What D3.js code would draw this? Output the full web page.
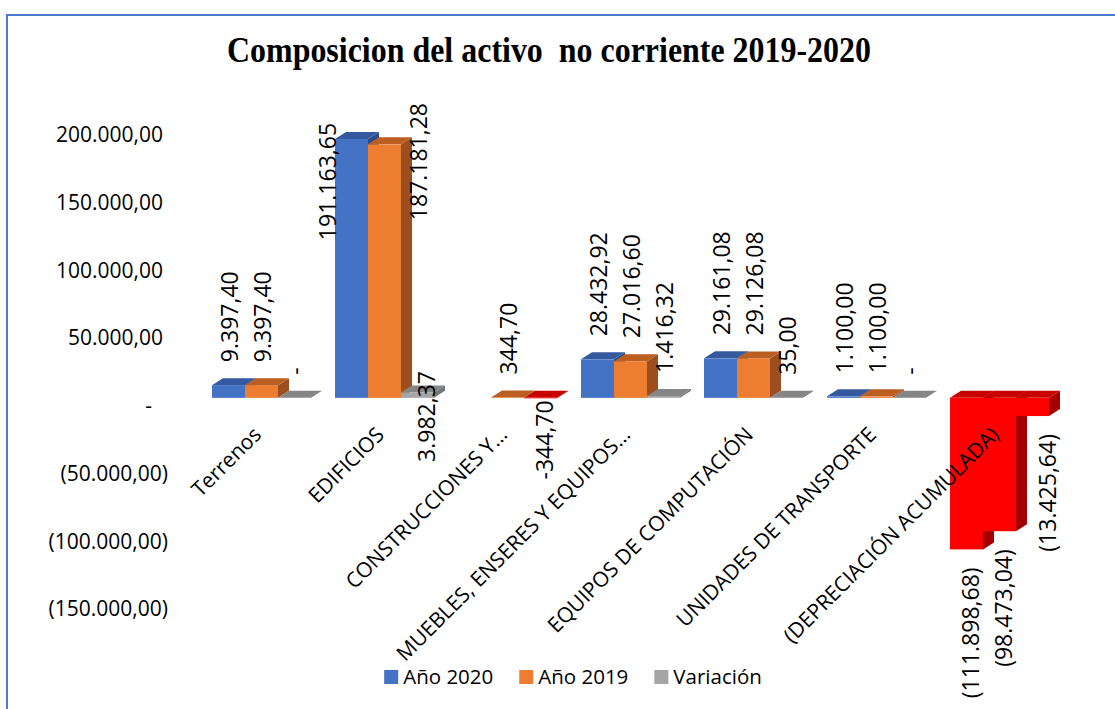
<!DOCTYPE html>
<html>
<head>
<meta charset="utf-8">
<script src="https://cdn.jsdelivr.net/npm/d3@7"></script>
<style>
  html, body { margin: 0; padding: 0; background: #ffffff; }
  svg { display: block; }
</style>
</head>
<body>
<svg id="chart" width="1115" height="709"></svg>
<script>
// ---------------- DATA ----------------
const categories = [
  "Terrenos",
  "EDIFICIOS",
  "CONSTRUCCIONES Y…",
  "MUEBLES, ENSERES Y EQUIPOS…",
  "EQUIPOS DE COMPUTACIÓN",
  "UNIDADES DE TRANSPORTE",
  "(DEPRECIACIÓN ACUMULADA)"
];
const seriesNames = ["Año 2020", "Año 2019", "Variación"];
const ano2020   = [9397.40, 191163.65, null,    28432.92, 29161.08, 1100.00, -111898.68];
const ano2019   = [9397.40, 187181.28, 344.70,  27016.60, 29126.08, 1100.00,  -98473.04];
const variacion = [0,       3982.37,   -344.70, 1416.32,  35.00,    0,        -13425.64];
const yTicks = [-150000, -100000, -50000, 0, 50000, 100000, 150000, 200000];
const titleText = "Composicion del activo  no corriente 2019-2020";
// categories drawn fully in the "negative/highlight" colour
const highlightCategories = ["(DEPRECIACIÓN ACUMULADA)"];

// ---------------- SETUP ----------------
const W = 1115, H = 709;
const svg = d3.select("#chart");
const series = [ano2020, ano2019, variacion];

const palette = [
  {front: "#4472C4", top: "#34599E", side: "#2B4C8A"},
  {front: "#ED7D31", top: "#BA5E22", side: "#9C4E1E"},
  {front: "#A5A5A5", top: "#858585", side: "#767676"}
];
const redPal = {front: "#FF0000", top: "#C80000", side: "#A50000"};

const locale = d3.formatLocale({decimal: ",", thousands: ".", grouping: [3], currency: ["", ""], minus: "-"});
const f2 = locale.format(",.2f");
const acct = v => v === 0 ? "-" : (v < 0 ? "(" + f2(-v) + ")" : f2(v));
const plain = v => v === 0 ? "-" : f2(v);

// frame
svg.append("rect").attr("x", 7).attr("y", 15).attr("width", 1300).attr("height", 900)
  .attr("fill", "none").attr("stroke", "#4A7BD0").attr("stroke-width", 2);

// title
svg.append("text")
  .attr("x", 549).attr("y", 62)
  .attr("text-anchor", "middle")
  .attr("font-family", "'Liberation Serif', 'Times New Roman', serif")
  .attr("font-weight", "bold")
  .attr("font-size", 36)
  .attr("textLength", 644)
  .attr("lengthAdjust", "spacingAndGlyphs")
  .attr("xml:space", "preserve")
  .style("white-space", "pre")
  .attr("fill", "#000")
  .text(titleText);

// scales
const y = d3.scaleLinear().domain([d3.min(yTicks), d3.max(yTicks)]).range([609, 135]);
const ZOFF = 8;           // front-face offset of 3D bars vs wall axis
const DX = 11, DY = 7;    // 3D depth
const yb = v => y(v) - ZOFF;

const x = d3.scaleBand().domain(categories).range([200, 1061])
  .paddingInner(24 / 123).paddingOuter(12 / 123);
const xs = d3.scaleBand().domain(seriesNames).range([0, x.bandwidth()]).padding(0);

// y axis
const yAxis = svg.append("g").attr("transform", "translate(163,0)")
  .call(d3.axisLeft(y).tickValues(yTicks).tickSize(0).tickPadding(0).tickFormat(acct));
yAxis.select(".domain").remove();
yAxis.selectAll("text")
  .attr("font-family", "'Open Sans', sans-serif")
  .attr("font-size", 21)
  .attr("fill", "#000")
  .attr("x", d => d < 0 ? 5 : (d === 0 ? -11 : 0));

// bars
const barsG = svg.append("g");
const labelsG = svg.append("g")
  .attr("font-family", "'Open Sans', sans-serif")
  .attr("font-size", 23)
  .attr("fill", "#000");

const plotTop = 103;
categories.forEach((cat, i) => {
  let overflow = false;
  series.forEach((arr, s) => {
    const v = arr[i];
    if (v === null || v === undefined) return;
    const x0 = x(cat) + xs(seriesNames[s]);
    const w = xs.bandwidth();
    const yv = yb(v), y0 = yb(0);
    const yTop = Math.min(yv, y0), yBot = Math.max(yv, y0);
    const hl = highlightCategories.includes(cat);
    const pal = (hl || (s === 2 && v < 0)) ? redPal : palette[s];
    // side
    barsG.append("polygon")
      .attr("points", [[x0 + w, yTop], [x0 + w + DX, yTop - DY], [x0 + w + DX, yBot - DY], [x0 + w, yBot]].join(" "))
      .attr("fill", pal.side);
    // top
    barsG.append("polygon")
      .attr("points", [[x0, yTop], [x0 + DX, yTop - DY], [x0 + w + DX, yTop - DY], [x0 + w, yTop]].join(" "))
      .attr("fill", pal.top);
    // front
    barsG.append("rect")
      .attr("x", x0).attr("y", yTop).attr("width", w).attr("height", Math.max(0, yBot - yTop))
      .attr("fill", pal.front);

    // data label
    const cx = x0 + w / 2;
    const txt = hl ? acct(v) : plain(v);
    const t = labelsG.append("text").text(txt).attr("dominant-baseline", "central");
    const len = t.node().getComputedTextLength();
    let px, py, anchor;
    if (v >= 0) {
      if (!overflow && yv - 23 - len < plotTop && s < 2) overflow = true;
      if (overflow && s === 0) { px = x0 - 8; py = yv - 16; anchor = "end"; }
      else if (overflow && s === 1) { px = x0 + w + DX + 6; py = plotTop; anchor = "end"; }
      else if (overflow && s === 2) { px = cx + 8; py = yv + 24; anchor = "middle"; }
      else { px = cx; py = yv - 23; anchor = "start"; }
    } else {
      px = cx + 3 + (s === 2 && hl ? DX : 0);
      py = yv + (hl ? 18 : 2);
      anchor = "end";
    }
    t.attr("text-anchor", anchor)
      .attr("transform", `translate(${px},${py}) rotate(-90)`);
  });
});

// category labels (drawn over bars)
const catG = svg.append("g")
  .attr("font-family", "'Open Sans', sans-serif")
  .attr("font-size", 21)
  .attr("fill", "#000");
categories.forEach(cat => {
  const cx = x(cat) + x.bandwidth() / 2;
  catG.append("text")
    .attr("text-anchor", "end")
    .attr("transform", `translate(${cx + 1},${436}) rotate(-45)`)
    .text(cat);
});

// legend
const legG = svg.append("g")
  .attr("font-family", "'Open Sans', sans-serif")
  .attr("font-size", 20.5)
  .attr("fill", "#000");
const sw = 14, gapT = 5, gapItem = 26;
const items = seriesNames.map((n, s) => {
  const t = legG.append("text").text(n).attr("y", 684);
  return {t, w: t.node().getComputedTextLength(), s};
});
const total = d3.sum(items, d => sw + gapT + d.w) + gapItem * (items.length - 1);
let lx = 573 - total / 2;
items.forEach(it => {
  legG.append("rect").attr("x", lx).attr("y", 670).attr("width", sw).attr("height", sw)
    .attr("fill", palette[it.s].front);
  it.t.attr("x", lx + sw + gapT);
  lx += sw + gapT + it.w + gapItem;
});
</script>
</body>
</html>
